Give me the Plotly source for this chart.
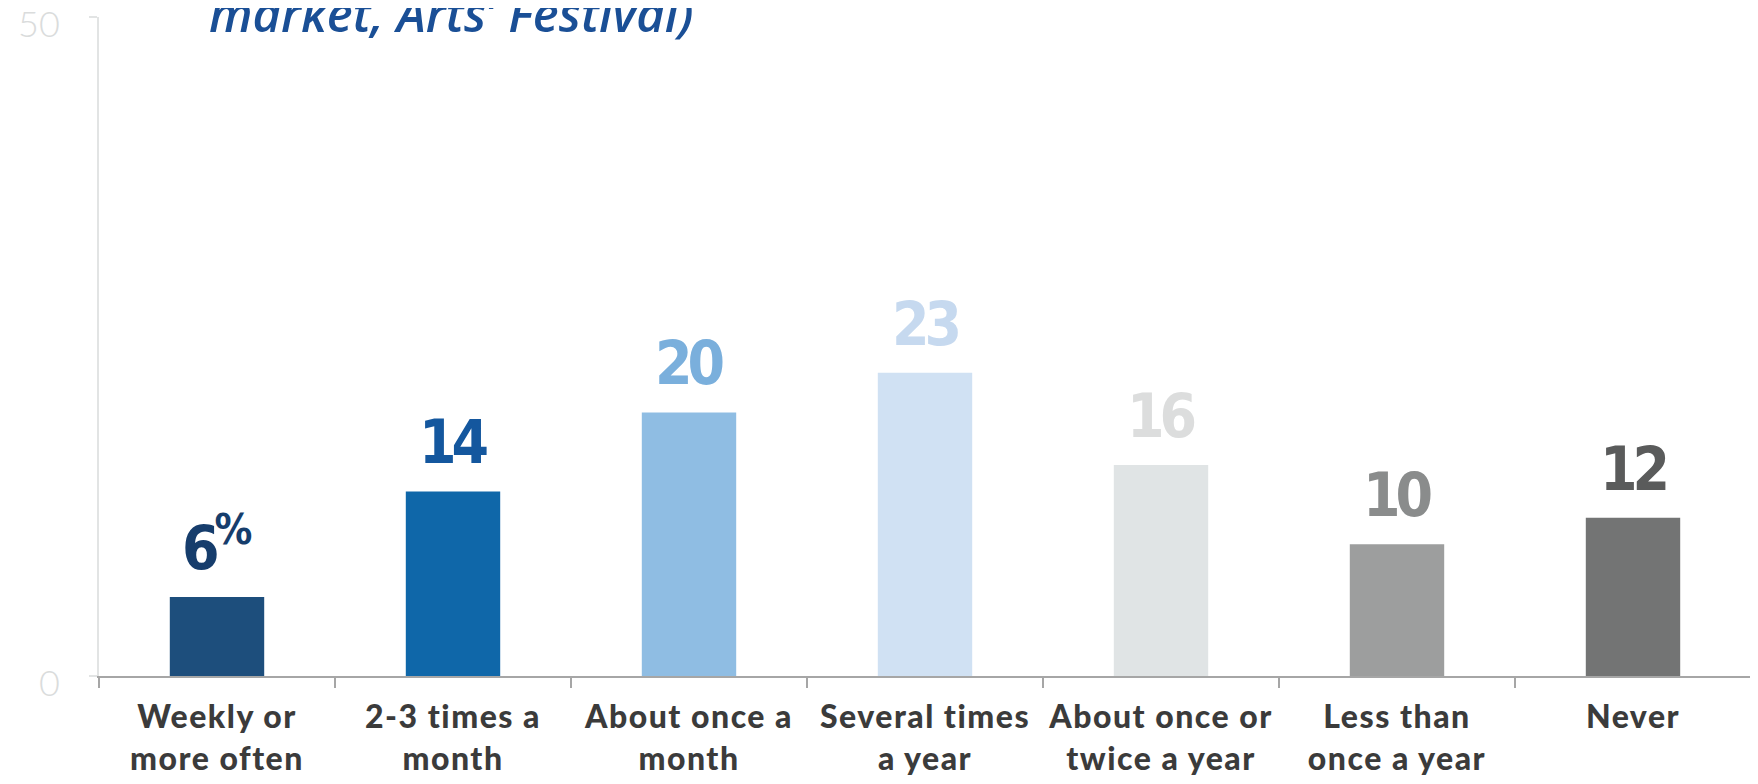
import plotly.graph_objects as go

categories = ["Weekly or<br>more often", "2-3 times a<br>month", "About once a<br>month",
              "Several times<br>a year", "About once or<br>twice a year", "Less than<br>once a year", "Never"]
values = [6, 14, 20, 23, 16, 10, 12]
value_labels = ["6<sup>%</sup>", "14", "20", "23", "16", "10", "12"]
bar_colors = ["#1d4e7c", "#0f67a9", "#8fbde3", "#d0e1f3", "#e0e4e5", "#9d9e9e", "#737474"]
label_colors = ["#163d6c", "#14579e", "#7aafdc", "#c6d9ef", "#dcdddd", "#8a8c8c", "#5a5b5b"]
y_ticks = [0, 50]
title_text = "market, Arts’ Festival)"

tick_text = ['<span style="letter-spacing:1.5px">' + c + '</span>' for c in categories]

fig = go.Figure()
fig.add_trace(go.Bar(x=categories, y=values, marker=dict(color=bar_colors, line=dict(width=0)),
                     hoverinfo="skip"))

for c, v, t, col in zip(categories, values, value_labels, label_colors):
    fig.add_annotation(x=c, y=v, text='<span style="letter-spacing:-5px">' + t + '</span>',
                       showarrow=False, yanchor="bottom", yshift=12,
                       font=dict(family="DejaVu Sans Condensed, Noto Sans, sans-serif",
                                 size=60, color=col, weight="bold"))

fig.add_annotation(xref="paper", yref="paper", x=(207 - 99) / (1751 - 99), xanchor="left",
                   y=1.0, yanchor="bottom", yshift=-31,
                   text='<i>' + title_text + '</i>', showarrow=False,
                   font=dict(family="Open Sans, Lato, sans-serif", size=49, color="#1a4f96", weight=600))

fig.update_layout(
    width=1750, height=776,
    margin=dict(l=91, r=7, t=9, b=108),
    paper_bgcolor="white", plot_bgcolor="white",
    bargap=0.6, showlegend=False,
    xaxis=dict(type="category", showline=True, linecolor="#a6a6a6", linewidth=2, automargin=False,
               ticks="outside", tickson="boundaries", ticklen=10, tickcolor="#a6a6a6", tickwidth=2,
               tickangle=0, showgrid=False, ticklabelstandoff=12,
               tickvals=categories, ticktext=tick_text,
               tickfont=dict(family="Lato, sans-serif", size=32, color="#3b3b3b", weight=900)),
    yaxis=dict(range=[0, 50], tickvals=y_ticks, showgrid=False, zeroline=False, automargin=False,
               showline=True, linecolor="#e2e4e4", linewidth=2,
               ticks="outside", ticklen=8, tickcolor="#e2e4e4", tickwidth=2,
               ticklabelstandoff=22, ticklabelshift=7, ticklabeloverflow="allow",
               tickfont=dict(family="Lato, sans-serif", size=36, color="#dadcdc", weight=300)),
)

fig.write_html("out.html")
